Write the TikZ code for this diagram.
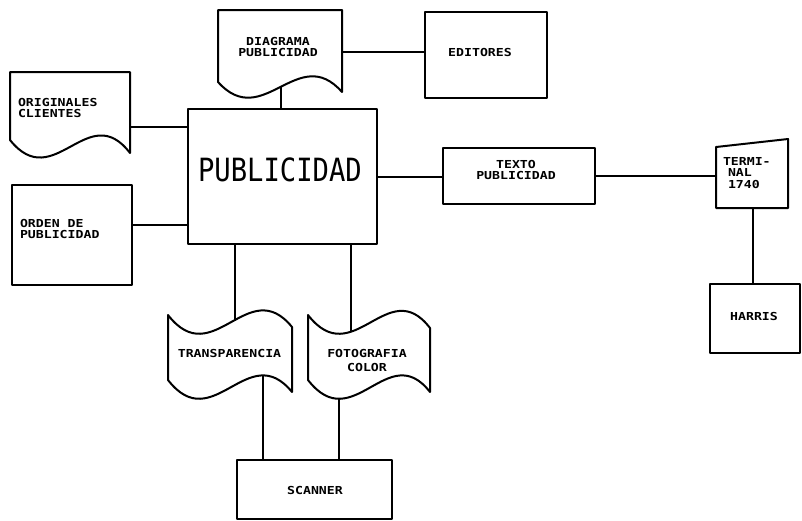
\documentclass[tikz,border=0pt]{standalone}
\usepackage{fontspec}
\newfontfamily\dmono[FakeStretch=1.2]{DejaVu Sans Mono}
\newfontfamily\dbig[FakeStretch=0.85]{DejaVu Sans Mono}
\begin{document}
\begin{tikzpicture}[x=1pt,y=-1pt,
  line width=2pt, line join=round,
  boxed/.style={draw, rectangle, inner sep=0pt, anchor=center},
  lbl/.style={inner sep=0pt, font=\dmono\bfseries\fontsize{11}{11.5}\selectfont, align=center},
  lbll/.style={lbl, align=left, anchor=west},
  biglbl/.style={inner sep=0pt, font=\dbig\fontsize{32}{32}\selectfont}]
\useasboundingbox (0,0) rectangle (802,520);

% rectangles
\node[boxed, minimum width=189pt, minimum height=135pt] (pub) at (282.5,176.5) {};
\node[biglbl] (publbl) at (280,170) {PUBLICIDAD};

\node[boxed, minimum width=122pt, minimum height=86pt] (ed) at (486,55) {};
\node[lbl] (edlbl) at (480,52) {EDITORES};

\node[boxed, minimum width=152pt, minimum height=56pt] (tx) at (519,176) {};
\node[lbl] (txlbl) at (516,170) {TEXTO\\PUBLICIDAD};

\node[boxed, minimum width=90pt, minimum height=69pt] (har) at (755,318.5) {};
\node[lbl] (harlbl) at (754,316) {HARRIS};

\node[boxed, minimum width=155pt, minimum height=59pt] (scn) at (314.5,489.5) {};
\node[lbl] (scnlbl) at (315,490) {SCANNER};

\node[boxed, minimum width=120pt, minimum height=100pt] (ord) at (72,235) {};
\node[lbll] (ordlbl) at (19,229) {ORDEN DE\\PUBLICIDAD};

% documents
\draw (218,10) -- (342,10) -- (342,92) .. controls (298,42) and (263,132) .. (218,82) -- cycle;
\node[lbl] (dglbl) at (278,47) {DIAGRAMA\\PUBLICIDAD};
\coordinate (dgR) at (342,52);
\coordinate (dgB) at (281,87);

\draw (10,72) -- (130,72) -- (130,153) .. controls (88,98) and (54,195) .. (10,140) -- cycle;
\node[lbll] (orlbl) at (17,108) {ORIGINALES\\CLIENTES};
\coordinate (orR) at (130,127);
\coordinate (ordR) at (132,225);

% terminal (manual input)
\draw (716,147) -- (788,139) -- (788,208) -- (716,208) -- cycle;
\node[lbll] (tmlbl) at (722,173) {TERMI-\\\hspace*{5pt}NAL\\\hspace*{5pt}1740};
\coordinate (tmW) at (716,176);
\coordinate (tmS) at (753,208);

% punched tapes
\draw (168,315) .. controls (213,373) and (248,273) .. (292,327) -- (292,392)
      .. controls (248,338) and (213,438) .. (168,380) -- cycle;
\node[lbl] (trlbl) at (229.5,353) {TRANSPARENCIA};
\coordinate (trT) at (235,321);
\coordinate (trB) at (263,375);

\draw (308,315) .. controls (353,373) and (388,273) .. (430,328) -- (430,392)
      .. controls (388,338) and (353,438) .. (308,380) -- cycle;
\node[lbl, font=\dmono\bfseries\fontsize{11}{14}\selectfont] (folbl) at (367,360) {FOTOGRAFIA\\COLOR};
\coordinate (foT) at (351,331);
\coordinate (foB) at (339,398);

% connectors
\draw (dgR) -- (dgR -| ed.west);
\draw (dgB) -- (dgB |- pub.north);
\draw (orR) -- (orR -| pub.west);
\draw (ordR) -- (ordR -| pub.west);
\draw (pub.east) -- (pub.east -| tx.west);
\draw (tx.east |- tmW) -- (tmW);
\draw (tmS) -- (tmS |- har.north);
\draw (trT |- pub.south) -- (trT);
\draw (foT |- pub.south) -- (foT);
\draw (trB) -- (trB |- scn.north);
\draw (foB) -- (foB |- scn.north);
\end{tikzpicture}
\end{document}
